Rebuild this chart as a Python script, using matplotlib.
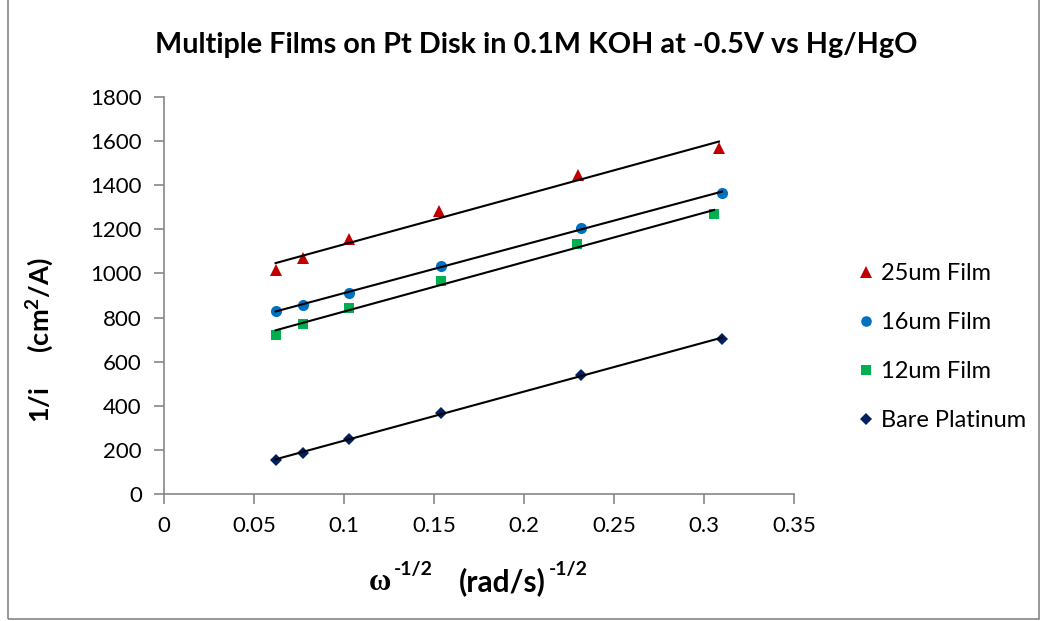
import numpy as np
import matplotlib
matplotlib.use("Agg")
import matplotlib.pyplot as plt
from matplotlib.patches import Rectangle

plt.rcParams['font.family'] = ['Lato', 'DejaVu Sans']
plt.rcParams['mathtext.fontset'] = 'custom'
plt.rcParams['mathtext.rm'] = 'Lato'
plt.rcParams['mathtext.bf'] = 'Lato:bold'

title = "Multiple Films on Pt Disk in 0.1M KOH at -0.5V vs Hg/HgO"
labels = ["25um Film", "16um Film", "12um Film", "Bare Platinum"]

x_25 = [0.0620, 0.0772, 0.1028, 0.1528, 0.2300, 0.3083]
y_25 = [1015, 1070, 1155, 1283, 1446, 1568]
x_16 = [0.0620, 0.0772, 0.1028, 0.1539, 0.2317, 0.3100]
y_16 = [830, 858, 911, 1034, 1206, 1366]
x_12 = [0.0620, 0.0772, 0.1028, 0.1539, 0.2295, 0.3056]
y_12 = [723, 771, 843, 966, 1133, 1269]
x_bp = [0.0620, 0.0772, 0.1028, 0.1539, 0.2317, 0.3100]
y_bp = [154, 188, 249, 367, 541, 703]

xticks = [0, 0.05, 0.1, 0.15, 0.2, 0.25, 0.3, 0.35]
xticklabels = ["0", "0.05", "0.1", "0.15", "0.2", "0.25", "0.3", "0.35"]
yticks = [0, 200, 400, 600, 800, 1000, 1200, 1400, 1600, 1800]

series = [
    (x_25, y_25, '^', '#C00000', 9),
    (x_16, y_16, 'o', '#0070C0', 8),
    (x_12, y_12, 's', '#00B050', 7.5),
    (x_bp, y_bp, 'D', '#002060', 6),
]

W, H = 1047, 621
fig = plt.figure(figsize=(10.47, 6.21), dpi=100)
ax = fig.add_axes([164/W, 1-494/H, (794-164)/W, (494-97)/H])

for (xs, ys, m, c, ms), lab in zip(series, labels):
    xs = np.array(xs); ys = np.array(ys)
    ax.plot(xs, ys, linestyle='none', marker=m, color=c, markersize=ms,
            markeredgewidth=0, label=lab, zorder=2)
    k, b = np.polyfit(xs, ys, 1)
    xl = np.array([xs.min(), xs.max()])
    ax.plot(xl, k*xl + b, color='black', lw=1.5, zorder=3)

ax.set_xlim(0, 0.35)
ax.set_ylim(0, 1800)
ax.set_xticks(xticks)
ax.set_xticklabels(xticklabels)
ax.set_yticks(yticks)
ax.tick_params(axis='both', labelsize=16, color='#868686', length=7, width=1.2,
               direction='out')
ax.tick_params(axis='x', pad=9)
ax.tick_params(axis='y', pad=9)
for s in ['top', 'right']:
    ax.spines[s].set_visible(False)
for s in ['left', 'bottom']:
    ax.spines[s].set_color('#868686')
    ax.spines[s].set_linewidth(1.2)

fig.text(536/W, 1-45/H, title, ha='center', va='center', fontsize=20.7,
         fontweight='bold')
fig.text(40/W, 1-340/H, r'$\mathbf{1/i\ \ \ \ (cm^2/A)}$', rotation=90,
         ha='center', va='center', fontsize=19.5)

# x label pieces
fig.text(369/W, 1-583/H, "ω", family='Liberation Serif', fontweight='bold',
         ha='left', va='center', fontsize=22)
fig.text(394/W, 1-569/H, "-1/2", fontweight='bold', ha='left', va='center',
         fontsize=14)
fig.text(459/W, 1-582/H, "(rad/s)", fontweight='bold', ha='left', va='center',
         fontsize=21.5)
fig.text(549/W, 1-569/H, "-1/2", fontweight='bold', ha='left', va='center',
         fontsize=14)

leg = ax.legend(loc='upper left', bbox_to_anchor=(833/W, 1-242/H),
                bbox_transform=fig.transFigure, frameon=False, fontsize=17,
                labelspacing=1.18, handletextpad=0.15, handlelength=1.0,
                markerscale=0.95)

fig.patches.append(Rectangle((8/W, 2/H), 1-16/W, 1.0, transform=fig.transFigure,
                             fill=False, edgecolor='#868686', lw=1.2))

fig.savefig('out.png', dpi=100)
